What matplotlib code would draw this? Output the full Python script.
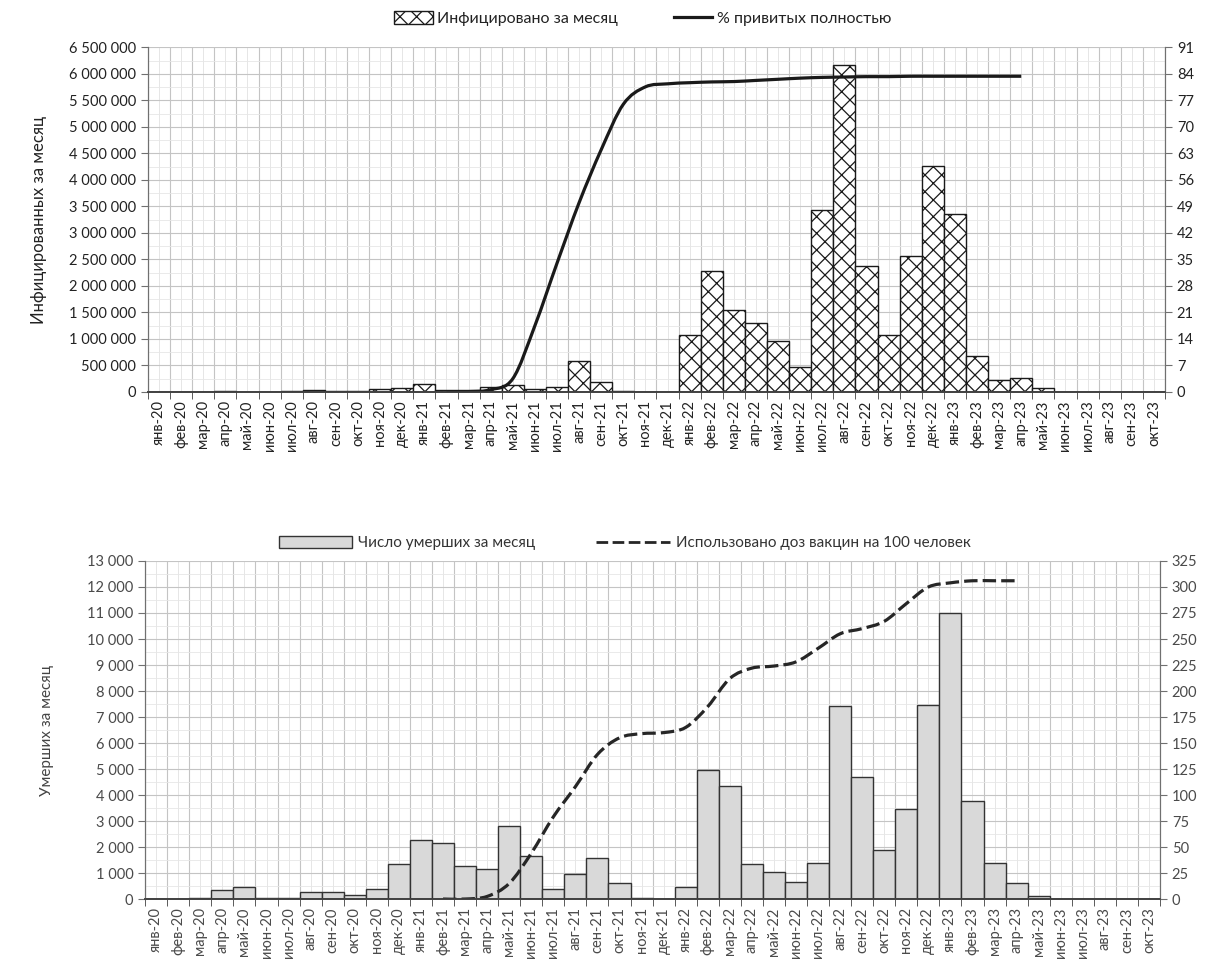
"""Япония: заболеваемость, смертность и вакцинация по месяцам (две панели)."""

import matplotlib
matplotlib.use("Agg")
import matplotlib.pyplot as plt
import numpy as np
from matplotlib.patches import PathPatch, Patch
from matplotlib.lines import Line2D
from matplotlib.path import Path
from matplotlib.ticker import FuncFormatter, MultipleLocator

plt.rcParams["font.family"] = ["Lato", "DejaVu Sans"]
plt.rcParams["hatch.linewidth"] = 0.9

MONTHS = ["янв", "фев", "мар", "апр", "май", "июн",
          "июл", "авг", "сен", "окт", "ноя", "дек"]
months = [f"{m}-{y}" for y in ("20", "21", "22") for m in MONTHS] + \
         [f"{m}-23" for m in MONTHS[:10]]

# инфицировано за месяц
infected = [0, 0, 1500, 12000, 5000, 1800, 17000, 32000, 15000, 18000, 50000, 80000,
            150000, 30000, 30000, 100000, 135000, 50000, 100000, 580000, 190000, 15000, 4000, 5000,
            1075000, 2280000, 1545000, 1300000, 970000, 470000, 3425000, 6170000, 2375000,
            1075000, 2575000, 4260000,
            3350000, 675000, 220000, 270000, 75000, 0, 0, 0, 0, 0]

# % привитых полностью (с фев-21 по апр-23)
full_vacc = [0.0, 0.1, 0.6, 3.5, 17.5, 34.0, 50.0, 64.0, 76.0, 80.6, 81.4,
             81.7, 81.9, 82.0, 82.3, 82.6, 82.9, 83.1, 83.2, 83.3, 83.3, 83.4, 83.4,
             83.4, 83.4, 83.4, 83.4]

# число умерших за месяц
deaths = [0, 0, 50, 350, 475, 50, 25, 260, 260, 150, 385, 1330,
          2270, 2150, 1260, 1160, 2800, 1670, 390, 960, 1570, 600, 45, 15,
          470, 4960, 4350, 1360, 1040, 650, 1370, 7440, 4680, 1900, 3445, 7470,
          10990, 3770, 1370, 630, 130, 0, 0, 0, 0, 0]

# использовано доз вакцин на 100 человек (с фев-21 по апр-23)
doses = [0, 0, 2.5, 15, 44, 79, 108, 139, 155, 159, 160,
         165, 185, 212, 222, 224, 228, 241, 255, 260, 267, 284, 300,
         304, 306, 306, 306]

LINE_START = 13  # фев-21
DASH = (0, (4.2, 1.6))


def smooth_path(xs, ys):
    """Сглаженная кривая через точки (как 'сглаженная линия' в Excel)."""
    pts = np.column_stack([xs, ys]).astype(float)
    verts = [pts[0]]
    codes = [Path.MOVETO]
    n = len(pts)
    for i in range(n - 1):
        p0 = pts[max(i - 1, 0)]
        p1 = pts[i]
        p2 = pts[i + 1]
        p3 = pts[min(i + 2, n - 1)]
        c1 = p1 + (p2 - p0) / 6.0
        c2 = p2 - (p3 - p1) / 6.0
        verts += [c1, c2, p2]
        codes += [Path.CURVE4] * 3
    return Path(verts, codes)


def thousands(v, _pos):
    return f"{int(round(v)):,}".replace(",", " ")


def style_axes(ax, ax2, color):
    n = len(months)
    ax.set_xlim(-0.5, n - 0.5)
    ax.set_xticks(np.arange(n))
    ax.set_xticklabels(months, rotation=90, fontsize=10.5, color=color)
    ax.set_xticks(np.arange(-0.5, n), minor=True)
    ax.tick_params(axis="x", which="major", length=0, pad=6)
    ax.tick_params(axis="x", which="minor", length=5, color="#404040")
    ax.tick_params(axis="y", which="major", length=5, labelsize=10.5,
                   colors="#707070", labelcolor=color)
    ax.tick_params(axis="y", which="minor", length=0)
    ax2.tick_params(axis="y", which="major", length=5, labelsize=10.5,
                    colors="#707070", labelcolor=color)

    ax.grid(which="minor", axis="x", color="#c4c4c4", lw=0.8)
    ax.grid(which="major", axis="x", color="#e2e2e2", lw=0.6)
    ax.grid(which="major", axis="y", color="#c4c4c4", lw=0.8)
    ax.grid(which="minor", axis="y", color="#e6e6e6", lw=0.6)
    ax.set_axisbelow(True)

    for a in (ax, ax2):
        a.spines["top"].set_visible(False)
        a.spines["left"].set_color("#707070")
        a.spines["right"].set_color("#707070")
        a.spines["bottom"].set_color("#404040")
        a.spines["bottom"].set_linewidth(1.2)


fig = plt.figure(figsize=(12.13, 9.77), dpi=100)
x = np.arange(len(months))
xl = np.arange(LINE_START, LINE_START + len(full_vacc))

# ---- верхняя панель: инфицированные + % привитых
ax = fig.add_axes([0.122, 0.5988, 0.8384, 0.3526])
ax2 = ax.twinx()
ax.bar(x, infected, width=1.0, facecolor="white", edgecolor="#1a1a1a",
       hatch="xx", lw=1.0)
ax.set_ylim(0, 6_500_000)
ax.yaxis.set_major_locator(MultipleLocator(500_000))
ax.yaxis.set_minor_locator(MultipleLocator(250_000))
ax.yaxis.set_major_formatter(FuncFormatter(thousands))
ax.set_ylabel("Инфицированных за месяц", fontsize=12, color="#222222", labelpad=16)

ax2.set_ylim(0, 91)
ax2.yaxis.set_major_locator(MultipleLocator(7))
ax2.add_patch(PathPatch(smooth_path(xl, full_vacc), fill=False,
                        edgecolor="#1a1a1a", lw=2.3, capstyle="butt"))
style_axes(ax, ax2, "#222222")

h1 = [Patch(facecolor="white", edgecolor="#1a1a1a", hatch="xx"),
      Line2D([], [], color="#1a1a1a", lw=2.3)]
fig.legend(h1, ["Инфицировано за месяц", "% привитых полностью"],
           loc="center", bbox_to_anchor=(0.53, 0.981), ncol=2, frameon=False,
           fontsize=11.5, handlelength=2.4, handleheight=0.9, columnspacing=3.5,
           handletextpad=0.3, labelcolor="#222222")

# ---- нижняя панель: умершие + дозы на 100 человек
bx = fig.add_axes([0.1197, 0.0798, 0.8366, 0.346])
bx2 = bx.twinx()
bx.bar(x, deaths, width=1.0, facecolor="#d9d9d9", edgecolor="#333333", lw=1.0)
bx.set_ylim(0, 13000)
bx.yaxis.set_major_locator(MultipleLocator(1000))
bx.yaxis.set_minor_locator(MultipleLocator(500))
bx.yaxis.set_major_formatter(FuncFormatter(thousands))
bx.set_ylabel("Умерших за месяц", fontsize=11, color="#444444", labelpad=24)

bx2.set_ylim(0, 325)
bx2.yaxis.set_major_locator(MultipleLocator(25))
bx2.add_patch(PathPatch(smooth_path(xl, doses), fill=False, edgecolor="#262626",
                        lw=2.3, linestyle=DASH, capstyle="butt"))
style_axes(bx, bx2, "#4a4a4a")

h2 = [Patch(facecolor="#d9d9d9", edgecolor="#333333"),
      Line2D([], [], color="#262626", lw=2.0, linestyle=DASH)]
fig.legend(h2, ["Число умерших за месяц", "Использовано доз вакцин на 100 человек"],
           loc="center", bbox_to_anchor=(0.515, 0.444), ncol=2, frameon=False,
           fontsize=11, handlelength=4.8, handleheight=0.8, columnspacing=4.0,
           handletextpad=0.4, labelcolor="#333333")

fig.savefig("out.png", dpi=100)
